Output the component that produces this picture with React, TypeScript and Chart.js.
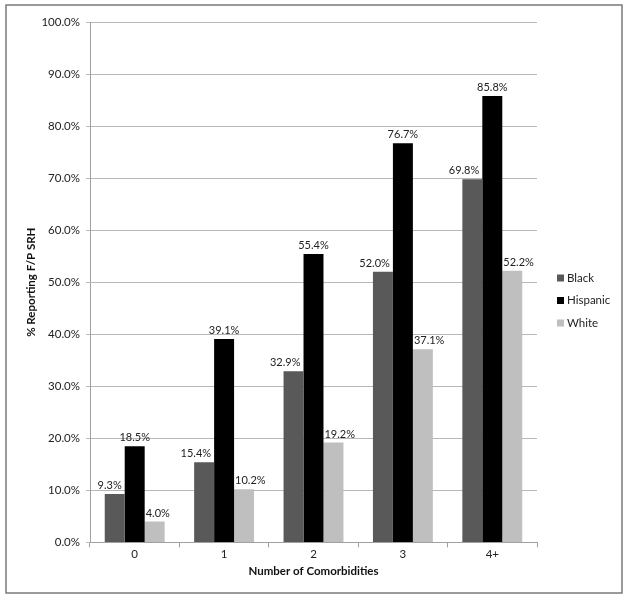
import React, { useEffect, useRef } from "react";
import { Chart, registerables } from "chart.js";

Chart.register(...registerables);

const categories = ["0", "1", "2", "3", "4+"];
const blackValues = [9.3, 15.4, 32.9, 52.0, 69.8];
const hispanicValues = [18.5, 39.1, 55.4, 76.7, 85.8];
const whiteValues = [4.0, 10.2, 19.2, 37.1, 52.2];
const seriesNames = ["Black", "Hispanic", "White"];
const seriesColors = ["#595959", "#000000", "#bfbfbf"];

const FONT = "Lato, 'Liberation Sans', sans-serif";

const extrasPlugin = {
  id: "extras",
  afterDatasetsDraw(chart: any) {
    const ctx = chart.ctx;
    ctx.save();
    ctx.font = `11px ${FONT}`;
    ctx.fillStyle = "#222";
    ctx.textBaseline = "bottom";
    ctx.textAlign = "left";
    chart.data.datasets.forEach((ds: any, i: number) => {
      const meta = chart.getDatasetMeta(i);
      meta.data.forEach((bar: any, j: number) => {
        const v = ds.data[j] as number;
        const txt = v.toFixed(1) + "%";
        const w = ctx.measureText(txt).width;
        const half = bar.width / 2;
        let left = bar.x - w / 2;
        if (i === 0) {
          left = Math.min(left, bar.x + half - 3 - w);
        } else if (i === 2) {
          left = Math.max(left, bar.x - half + 1);
        }
        ctx.fillText(txt, left, bar.y - 3);
      });
    });
    ctx.restore();
  },
  afterDraw(chart: any) {
    const ctx = chart.ctx;
    ctx.save();
    ctx.strokeStyle = "#7a7a7a";
    ctx.lineWidth = 1.5;
    ctx.strokeRect(6, 5, 616, 588);
    const x0 = 557;
    const y0 = 278;
    const step = 22.5;
    ctx.font = `11.5px ${FONT}`;
    ctx.textBaseline = "middle";
    ctx.textAlign = "left";
    chart.data.datasets.forEach((ds: any, i: number) => {
      const y = y0 + i * step;
      ctx.fillStyle = ds.backgroundColor;
      ctx.fillRect(x0, y - 3.5, 7, 7);
      ctx.fillStyle = "#222";
      ctx.fillText(ds.label, x0 + 10, y);
    });
    ctx.restore();
  },
};

export default function App() {
  const ref = useRef<HTMLCanvasElement>(null);
  useEffect(() => {
    document.body.style.margin = "0";
    const values = [blackValues, hispanicValues, whiteValues];
    const chart = new Chart(ref.current!, {
      type: "bar",
      data: {
        labels: categories,
        datasets: seriesNames.map((name, i) => ({
          label: name,
          data: values[i],
          backgroundColor: seriesColors[i],
          borderWidth: 0,
          categoryPercentage: 0.67,
          barPercentage: 1.0,
        })),
      },
      options: {
        animation: false,
        responsive: false,
        maintainAspectRatio: false,
        layout: { padding: { left: 24, right: 92, top: 22, bottom: 16 } },
        plugins: {
          legend: { display: false },
          tooltip: { enabled: false },
        },
        scales: {
          x: {
            grid: {
              offset: true,
              drawOnChartArea: false,
              drawTicks: true,
              tickLength: 5,
              color: "#a0a0a0",
            },
            border: { color: "#a0a0a0" },
            ticks: { color: "#222", font: { family: FONT, size: 11.5 }, padding: 0 },
            title: {
              display: true,
              text: "Number of Comorbidities",
              color: "#111",
              font: { family: FONT, size: 11.5, weight: "bold" },
              padding: { top: 3, bottom: 6 },
            },
          },
          y: {
            min: 0,
            max: 100,
            afterFit(scale: any) {
              scale.width = 66;
            },
            ticks: {
              stepSize: 10,
              color: "#222",
              font: { family: FONT, size: 11.5 },
              padding: 6,
              callback: (v: any) => Number(v).toFixed(1) + "%",
            },
            grid: { color: "#b8b8b8", tickLength: 4 },
            border: { color: "#a0a0a0" },
            title: {
              display: true,
              text: "% Reporting F/P SRH",
              color: "#111",
              font: { family: FONT, size: 11.5, weight: "bold" },
              padding: 0,
            },
          },
        },
      },
      plugins: [extrasPlugin],
    });
    return () => chart.destroy();
  }, []);
  return <canvas ref={ref} width={629} height={600} style={{ display: "block" }} />;
}
